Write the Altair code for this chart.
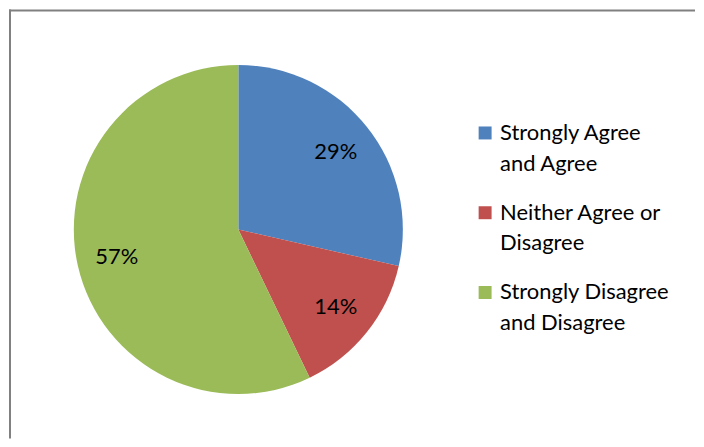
import altair as alt
import pandas as pd

categories = ["Strongly Agree and Agree", "Neither Agree or Disagree", "Strongly Disagree and Disagree"]
legend_lines = ["Strongly Agree\nand Agree", "Neither Agree or\nDisagree", "Strongly Disagree\nand Disagree"]
values = [28.57, 14.29, 57.14]
labels = ["29%", "14%", "57%"]
colors = ["#4F81BD", "#C0504D", "#9BBB59"]
order = [0, 1, 2]

df = pd.DataFrame({"category": categories, "legend": legend_lines, "value": values,
                   "label": labels, "order": order})

W, H = 688, 430
cx, cy = 230, 220.5
FONT = "Lato"

color = alt.Color("category:N", scale=alt.Scale(domain=categories, range=colors), legend=None)
base = alt.Chart(df)

pie = base.mark_arc(outerRadius=165).encode(
    theta=alt.Theta("value:Q", stack=True),
    order=alt.Order("order:Q"),
    color=color,
    x=alt.value(cx), y=alt.value(cy),
)

pct = base.mark_text(radius=125, font=FONT, fontSize=22, color="#000000",
                     align="center", baseline="middle").encode(
    theta=alt.Theta("value:Q", stack=True),
    order=alt.Order("order:Q"),
    detail="category:N",
    text="label:N",
    x=alt.value(cx), y=alt.value(cy),
)

ly = alt.Y("order:Q", scale=alt.Scale(domain=[0, 2], range=[123.7, 283.7]), axis=None)

sq = base.mark_square(size=169, opacity=1, filled=True).encode(
    x=alt.value(477.5), y=ly, color=color,
)

lt = base.mark_text(align="left", baseline="alphabetic", dx=15, dy=6.8, lineBreak="\n",
                    lineHeight=31, font=FONT, fontSize=22, color="#000000").encode(
    x=alt.value(477.5), y=ly, text="legend:N",
)

frame_df = pd.DataFrame({"k": [0]})
top = alt.Chart(frame_df).mark_rule(color="#808080", strokeWidth=2).encode(
    x=alt.value(0), x2=alt.value(W), y=alt.value(1))
left = alt.Chart(frame_df).mark_rule(color="#808080", strokeWidth=2).encode(
    x=alt.value(1), y=alt.value(0), y2=alt.value(H))

chart = alt.layer(pie, pct, sq, lt, top, left).properties(
    width=W, height=H, padding=0, background="white"
).configure_view(stroke=None)

chart.save("out.html", embed_options={"renderer": "svg", "actions": False})
